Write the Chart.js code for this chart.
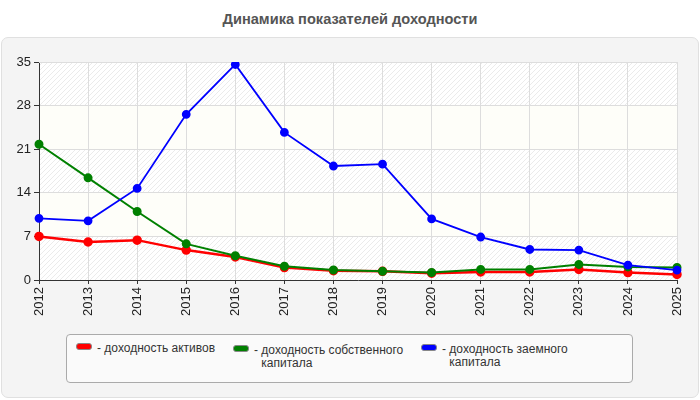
<!DOCTYPE html>
<html>
<head>
<meta charset="utf-8">
<script src="https://cdn.jsdelivr.net/npm/chart.js@4/dist/chart.umd.min.js"></script>
<style>
  body { margin: 0; background: #fff; font-family: "Liberation Sans", Arial, sans-serif; }
  #wrap { position: relative; width: 700px; height: 400px; }
  #panel { position: absolute; left: 1px; top: 37px; width: 696px; height: 359px;
           background: #f4f4f4; border: 1px solid #e0e0e0; border-radius: 7px; }
  #title { position: absolute; left: 0; top: 11px; width: 700px; text-align: center;
           font-weight: bold; font-size: 14.6px; color: #555; }
  canvas { position: absolute; left: 0; top: 0; }
  #legend { position: absolute; left: 66px; top: 334px; width: 565px; height: 47px;
            background: #fafafa; border: 1px solid #aaa; border-radius: 4px; }
  .item { position: absolute; top: 8px; font-size: 12px; color: #333; line-height: 13px; }
  .sw { position: absolute; left: 0; top: 2px; width: 14px; height: 5px; border: 1px solid #888; border-radius: 3px; }
  .txt { position: absolute; left: 21px; top: 1px; white-space: nowrap; }
  .txt span { display: inline-block; vertical-align: top; }
</style>
</head>
<body>
<div id="wrap">
  <div id="panel"></div>
  <div id="title">Динамика показателей доходности</div>
  <canvas id="chart" width="700" height="400"></canvas>
  <div id="legend"></div>
</div>
<script>
const years = ['2012','2013','2014','2015','2016','2017','2018','2019','2020','2021','2022','2023','2024','2025'];
const assets = [7.0, 6.1, 6.4, 4.8, 3.7, 2.0, 1.5, 1.4, 1.1, 1.3, 1.3, 1.7, 1.2, 0.9];
const equity = [21.8, 16.4, 11.0, 5.8, 3.9, 2.2, 1.6, 1.4, 1.2, 1.7, 1.7, 2.5, 2.1, 2.0];
const borrowed = [9.9, 9.5, 14.7, 26.6, 34.6, 23.7, 18.3, 18.6, 9.8, 6.9, 4.9, 4.8, 2.4, 1.6];
const yTicks = [0, 7, 14, 21, 28, 35];

const legendItems = [
  { color: '#ff0000', lines: ['доходность активов'], left: 9, top: 6 },
  { color: '#008000', lines: ['доходность собственного', 'капитала'], left: 166, top: 8 },
  { color: '#0000ff', lines: ['доходность заемного', 'капитала'], left: 354, top: 7 }
];

// legend in html so the labels can wrap like the original
const legendEl = document.getElementById('legend');
legendItems.forEach(it => {
  const d = document.createElement('div');
  d.className = 'item';
  d.style.left = it.left + 'px';
  d.style.top = it.top + 'px';
  const sw = document.createElement('div');
  sw.className = 'sw';
  sw.style.background = it.color;
  d.appendChild(sw);
  const t = document.createElement('div');
  t.className = 'txt';
  const dash = document.createElement('span');
  dash.textContent = '-\u00a0';
  const body = document.createElement('span');
  body.innerHTML = it.lines.join('<br>');
  t.appendChild(dash);
  t.appendChild(body);
  d.appendChild(t);
  legendEl.appendChild(d);
});

// hatched pattern for the striped bands
function makeHatch() {
  const c = document.createElement('canvas');
  c.width = 5; c.height = 5;
  const g = c.getContext('2d');
  g.fillStyle = '#ffffff';
  g.fillRect(0, 0, 5, 5);
  g.strokeStyle = '#ebebeb';
  g.lineWidth = 1;
  g.beginPath();
  g.moveTo(0, 5); g.lineTo(5, 0);
  g.moveTo(-2.5, 2.5); g.lineTo(2.5, -2.5);
  g.moveTo(2.5, 7.5); g.lineTo(7.5, 2.5);
  g.stroke();
  return g.createPattern(c, 'repeat');
}

const bandsPlugin = {
  id: 'bands',
  beforeDraw(chart) {
    const { ctx, chartArea, scales } = chart;
    const hatch = makeHatch();
    ctx.save();
    for (let i = 0; i < yTicks.length - 1; i++) {
      const top = scales.y.getPixelForValue(yTicks[i + 1]);
      const bot = scales.y.getPixelForValue(yTicks[i]);
      ctx.fillStyle = (i % 2 === 0) ? hatch : '#fefef9';
      ctx.fillRect(chartArea.left, top, chartArea.right - chartArea.left, bot - top);
    }
    ctx.restore();
  },
  beforeDatasetsDraw(chart) {
    const { ctx, chartArea } = chart;
    ctx.save();
    ctx.strokeStyle = '#dddddd';
    ctx.lineWidth = 1;
    ctx.beginPath();
    ctx.moveTo(chartArea.left, chartArea.top + 0.5);
    ctx.lineTo(chartArea.right + 0.5, chartArea.top + 0.5);
    ctx.lineTo(chartArea.right + 0.5, chartArea.bottom);
    ctx.stroke();
    ctx.restore();
  }
};

function ds(label, data, color, order, width) {
  return {
    label, data, order,
    borderColor: color,
    backgroundColor: color,
    pointBackgroundColor: color,
    pointBorderColor: color,
    borderWidth: width,
    pointRadius: 3.5,
    tension: 0
  };
}

new Chart(document.getElementById('chart').getContext('2d'), {
  type: 'line',
  data: {
    labels: years,
    datasets: [
      ds('доходность активов', assets, '#ff0000', 3, 2.5),
      ds('доходность собственного капитала', equity, '#008000', 2, 2),
      ds('доходность заемного капитала', borrowed, '#0000ff', 1, 1.8)
    ]
  },
  options: {
    responsive: false,
    animation: false,
    layout: { padding: { top: 62, right: 23, bottom: 80, left: 0 } },
    plugins: { legend: { display: false }, title: { display: false }, tooltip: { enabled: false } },
    scales: {
      x: {
        offset: false,
        afterFit: s => { s.height = 40; },
        border: { color: '#333', width: 1 },
        grid: { color: '#dddddd', borderDash: [5, 4], tickColor: '#333', tickLength: 4, tickBorderDash: [] },
        ticks: { color: '#222', font: { family: 'Liberation Sans', size: 13 }, minRotation: 90, maxRotation: 90, padding: 3, autoSkip: false }
      },
      y: {
        min: 0, max: 35,
        afterFit: s => { s.width = 39; },
        afterBuildTicks: s => { s.ticks = yTicks.map(v => ({ value: v })); },
        border: { color: '#333', width: 1 },
        grid: { color: '#dddddd', borderDash: [5, 4], tickColor: '#333', tickLength: 5, tickBorderDash: [] },
        ticks: { color: '#222', font: { family: 'Liberation Sans', size: 13 }, padding: 3 }
      }
    }
  },
  plugins: [bandsPlugin]
});
</script>
</body>
</html>
